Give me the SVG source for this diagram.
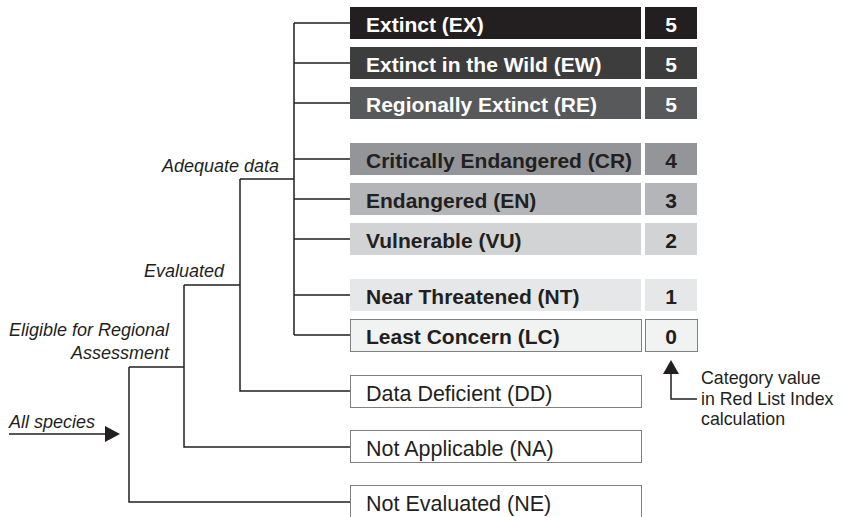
<svg xmlns="http://www.w3.org/2000/svg" width="842" height="517" viewBox="0 0 842 517">
<style>
.lbl{font-family:"Liberation Sans",Arial,sans-serif;font-size:21px;font-weight:bold}
.val{font-family:"Liberation Sans",Arial,sans-serif;font-size:21px;font-weight:bold;text-anchor:middle}
.w{fill:#ffffff}
.d{fill:#231f20}
.reg{font-family:"Liberation Sans",Arial,sans-serif;font-size:21.5px;fill:#231f20}
.it{font-family:"Liberation Sans",Arial,sans-serif;font-size:18px;font-style:italic;fill:#231f20}
.ann{font-family:"Liberation Sans",Arial,sans-serif;font-size:17.8px;fill:#231f20}
.ln{fill:none;stroke:#231f20;stroke-width:1.5}
.open{fill:#ffffff;stroke:#808080;stroke-width:1}
</style>
<rect width="842" height="517" fill="#ffffff"/>
<g id="connectors">
<path class="ln" d="M294,23V335M294,23H350M294,63H350M294,103H350M294,159H350M294,199H350M294,239H350M294,295H350M294,335H350"/>
<path class="ln" d="M240,179H294M240,179V391H350"/>
<path class="ln" d="M184,285H240M184,285V447H350"/>
<path class="ln" d="M129,367H184M129,367V502H350"/>
<path class="ln" d="M9,434H107"/>
<polygon points="105,426 120,434 105,442" fill="#231f20"/>
<path class="ln" d="M671,372V399H697"/>
<polygon points="671,360 679,374 663,374" fill="#231f20"/>
</g>
<g id="EX"><rect x="350" y="7" width="291" height="32" fill="#231f20"/><text class="lbl w" x="366" y="31.5">Extinct (EX)</text><rect x="645" y="7" width="52" height="32" fill="#231f20"/><text class="val w" x="671" y="31.5">5</text></g>
<g id="EW"><rect x="350" y="47" width="291" height="32" fill="#3d3d3e"/><text class="lbl w" x="366" y="71.5">Extinct in the Wild (EW)</text><rect x="645" y="47" width="52" height="32" fill="#3d3d3e"/><text class="val w" x="671" y="71.5">5</text></g>
<g id="RE"><rect x="350" y="87" width="291" height="32" fill="#58595b"/><text class="lbl w" x="366" y="111.5">Regionally Extinct (RE)</text><rect x="645" y="87" width="52" height="32" fill="#58595b"/><text class="val w" x="671" y="111.5">5</text></g>
<g id="CR"><rect x="350" y="143" width="291" height="32" fill="#939598"/><text class="lbl d" x="366" y="167.5">Critically Endangered (CR)</text><rect x="645" y="143" width="52" height="32" fill="#939598"/><text class="val d" x="671" y="167.5">4</text></g>
<g id="EN"><rect x="350" y="183" width="291" height="32" fill="#b3b5b8"/><text class="lbl d" x="366" y="207.5">Endangered (EN)</text><rect x="645" y="183" width="52" height="32" fill="#b3b5b8"/><text class="val d" x="671" y="207.5">3</text></g>
<g id="VU"><rect x="350" y="223" width="291" height="32" fill="#d1d3d4"/><text class="lbl d" x="366" y="247.5">Vulnerable (VU)</text><rect x="645" y="223" width="52" height="32" fill="#d1d3d4"/><text class="val d" x="671" y="247.5">2</text></g>
<g id="NT"><rect x="350" y="279" width="291" height="32" fill="#e6e7e8"/><text class="lbl d" x="366" y="303.5">Near Threatened (NT)</text><rect x="645" y="279" width="52" height="32" fill="#e6e7e8"/><text class="val d" x="671" y="303.5">1</text></g>
<g id="LC"><rect x="350.5" y="319.5" width="291" height="32" fill="#f1f2f2" stroke="#808080"/><text class="lbl d" x="366" y="343.5">Least Concern (LC)</text><rect x="645.5" y="319.5" width="52" height="32" fill="#f1f2f2" stroke="#808080"/><text class="val d" x="671" y="343.5">0</text></g>
<g id="DD"><rect class="open" x="350.5" y="375.5" width="291" height="32"/><text class="reg" x="366" y="400.5">Data Deficient (DD)</text></g>
<g id="NA"><rect class="open" x="350.5" y="430.5" width="291" height="32"/><text class="reg" x="366" y="455.5">Not Applicable (NA)</text></g>
<g id="NE"><rect class="open" x="350.5" y="485.5" width="291" height="34"/><text class="reg" x="366" y="510.5">Not Evaluated (NE)</text></g>
<g id="labels">
<text class="it" x="279" y="171.5" text-anchor="end">Adequate data</text>
<text class="it" x="224" y="277" text-anchor="end">Evaluated</text>
<text class="it" x="169" y="336" text-anchor="end">Eligible for Regional</text>
<text class="it" x="169" y="359" text-anchor="end">Assessment</text>
<text class="it" x="9" y="428">All species</text>
<text class="ann" x="701" y="384">Category value</text>
<text class="ann" x="701" y="404.5">in Red List Index</text>
<text class="ann" x="701" y="425">calculation</text>
</g>
</svg>
